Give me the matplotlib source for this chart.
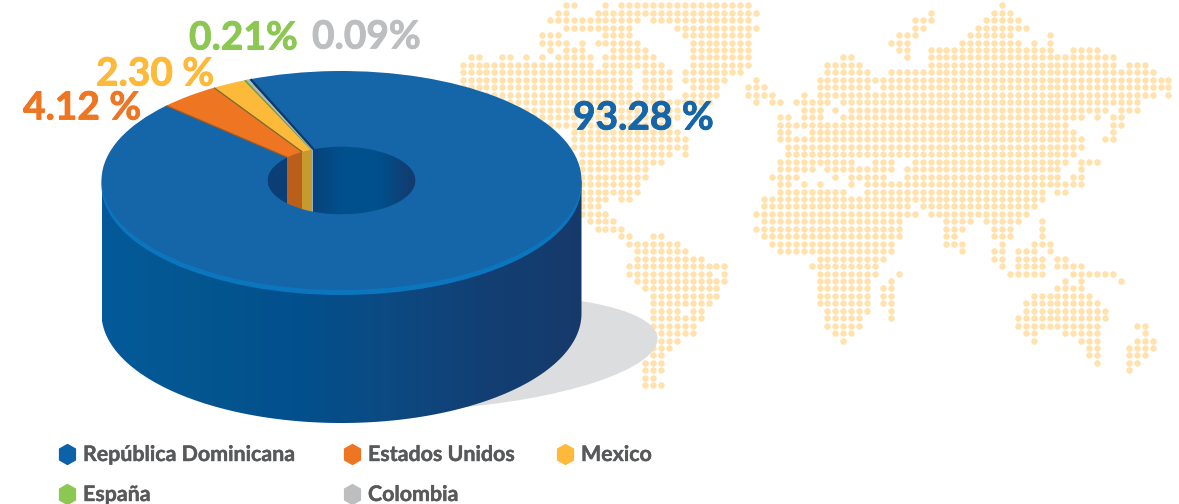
#!/usr/bin/env python
"""
Donut chart of clients by country, drawn over a dotted world map.
"""

import matplotlib
matplotlib.use("Agg")
import matplotlib.patheffects as pe
import matplotlib.pyplot as plt
import numpy as np
from matplotlib.colors import LinearSegmentedColormap
from matplotlib.patches import Ellipse, Polygon, Rectangle
from matplotlib.transforms import Affine2D

plt.rcParams["font.family"] = ["Lato", "DejaVu Sans"]

countries = ["República Dominicana", "Estados Unidos", "Mexico", "España", "Colombia"]
shares = [93.28, 4.12, 2.30, 0.21, 0.09]
share_labels = ["93.28 %", "4.12 %", "2.30 %", "0.21%", "0.09%"]
colors = ["#1565A9", "#EE7623", "#FDB93A", "#8CC751", "#BCBEC0"]
legend_colors = ["#0B62A8", "#EE7623", "#FDB93A", "#8CC751", "#BCBEC0"]
wall_colors = ["#BA5E1B", "#C79A2E"]

# dotted map, one list of (first column, last column) runs per row
map_rows = [
    [(13, 14), (18, 18), (20, 36), (68, 68)],
    [(12, 13), (17, 37), (59, 59), (67, 69)],
    [(11, 22), (24, 36), (57, 59), (66, 70)],
    [(13, 21), (27, 37), (57, 58), (65, 71)],
    [(10, 12), (18, 21), (28, 36), (55, 57), (64, 69), (74, 74)],
    [(10, 13), (15, 15), (17, 22), (29, 36), (54, 56), (63, 70), (72, 72), (74, 74)],
    [(11, 11), (13, 15), (19, 23), (29, 36), (55, 56), (59, 74), (77, 80)],
    [(1, 2), (5, 6), (8, 8), (10, 10), (12, 16), (18, 24), (29, 36), (48, 49), (56, 56), (59, 82)],
    [(0, 16), (18, 25), (29, 36), (46, 50), (59, 82), (84, 86)],
    [(0, 21), (23, 26), (28, 35), (46, 51), (54, 87)],
    [(0, 21), (23, 26), (28, 33), (37, 37), (45, 89)],
    [(0, 21), (23, 26), (29, 32), (36, 38), (45, 51), (53, 89)],
    [(0, 25), (28, 32), (36, 39), (43, 43), (45, 87), (89, 89)],
    [(0, 31), (37, 37), (39, 40), (42, 46), (48, 85)],
    [(0, 30), (43, 45), (47, 47), (49, 81), (83, 85)],
    [(0, 27), (40, 41), (43, 45), (48, 78), (80, 80), (82, 83)],
    [(0, 26), (40, 76), (82, 83)],
    [(14, 27), (40, 41), (44, 77), (82, 82)],
    [(14, 28), (40, 78), (81, 82)],
    [(14, 28), (41, 78)],
    [(15, 26), (28, 28), (41, 77)],
    [(15, 25), (40, 49), (52, 54), (57, 76), (78, 80)],
    [(15, 23), (40, 44), (46, 54), (56, 75), (78, 78)],
    [(15, 23), (39, 42), (47, 47), (49, 53), (56, 75), (77, 78)],
    [(15, 22), (40, 41), (43, 43), (45, 45), (49, 49), (51, 78)],
    [(15, 22), (40, 48), (51, 73), (75, 76)],
    [(15, 18), (20, 21), (38, 73)],
    [(15, 17), (38, 56), (58, 72)],
    [(15, 18), (37, 57), (59, 71)],
    [(16, 19), (38, 55), (61, 64), (66, 70), (73, 73)],
    [(17, 20), (37, 55), (61, 63), (67, 69), (73, 73)],
    [(20, 21), (24, 25), (38, 55), (61, 62), (67, 69), (73, 73)],
    [(21, 27), (39, 54), (61, 63), (68, 68), (72, 74)],
    [(22, 28), (40, 54), (63, 63), (67, 68), (70, 72), (74, 74)],
    [(22, 30), (45, 53), (67, 68), (70, 73), (75, 76)],
    [(21, 33), (44, 52), (68, 68), (70, 73), (75, 78)],
    [(21, 31), (33, 33), (45, 52), (55, 55), (69, 73), (77, 82)],
    [(22, 33), (45, 51), (54, 54), (76, 76), (78, 78), (83, 83)],
    [(23, 32), (45, 51), (53, 54), (75, 78)],
    [(24, 32), (45, 51), (53, 54), (72, 79)],
    [(24, 31), (45, 51), (53, 54), (71, 80)],
    [(24, 27), (29, 30), (46, 51), (54, 54), (71, 81)],
    [(24, 30), (46, 50), (54, 54), (70, 81)],
    [(24, 29), (46, 50), (70, 80), (85, 86)],
    [(24, 29), (47, 49), (71, 72), (76, 80), (86, 86)],
    [(24, 27), (48, 48), (72, 72), (78, 80), (85, 87)],
    [(24, 26), (79, 80), (84, 87)],
    [(24, 25), (79, 80), (84, 86)],
    [(23, 25), (80, 80), (84, 85)],
    [(23, 25), (84, 84)],
    [(23, 24)],
    [(23, 25)],
]

# pie geometry in pixels
CX, CY = 341.5, 180.5
RX, RY = 240, 109.5
HOLE = 74 / 240
DEPTH = 133
START = 112.7


def gradient(ax, cmap, x0, x1, y0, y1, clip, zorder):
    """Horizontal colour ramp clipped to a patch"""
    im = ax.imshow(np.linspace(0, 1, 256).reshape(1, -1), cmap=cmap, aspect="auto",
                   extent=(x0, x1, y1, y0), zorder=zorder)
    im.set_clip_path(clip)


def main():
    fig = plt.figure(figsize=(11.79, 5.04), dpi=100)
    ax = fig.add_axes([0, 0, 1, 1])

    # world map
    xs, ys = [], []
    for k, runs in enumerate(map_rows):
        for first, last in runs:
            for c in range(first, last + 1):
                xs.append(462.7 + 7.93 * c)
                ys.append(5.3 + 7.45 * k)
    ax.scatter(xs, ys, s=22, color="#FFE2AE", linewidths=0, zorder=1)

    # shadow
    ax.add_patch(Ellipse((440, 353), 436, 112, angle=-4, color="#DCDDDF", lw=0, zorder=2))

    # outer side of the drum
    t = np.linspace(0, np.pi, 200)
    side_pts = np.column_stack([CX + RX * np.cos(t), CY + DEPTH + RY * np.sin(t)])
    side_pts = np.vstack([[CX + RX, CY], side_pts, [CX - RX, CY]])
    side = Polygon(side_pts, closed=True, fc="none", ec="none", zorder=3)
    ax.add_patch(side)
    side_cmap = LinearSegmentedColormap.from_list(
        "side", ["#045A9A", "#03568F", "#02508E", "#0C4A82", "#123F74", "#163A6A"])
    gradient(ax, side_cmap, CX - RX, CX + RX, CY - 5, CY + DEPTH + RY + 5, side, 3)

    # lighter rim under the top face
    ax.add_patch(Ellipse((CX, CY + 5), 2 * RX, 2 * RY, color="#0B76BE", lw=0, zorder=4))

    # inner wall seen through the hole
    hole = Ellipse((CX, CY), 2 * RX * HOLE, 2 * RY * HOLE * 1.03, fc="#0B3F75", ec="none", zorder=5)
    ax.add_patch(hole)
    wall_cmap = LinearSegmentedColormap.from_list(
        "wall", ["#0B3F75", "#0B3F75", "#00508D", "#00508D", "#15396B"])
    gradient(ax, wall_cmap, CX - RX * HOLE, CX + RX * HOLE, CY - 45, CY + 45, hole, 5)

    # slice edges as angles
    bounds = START - np.cumsum([0] + shares) * 3.6
    hole_x = CX + RX * HOLE * np.cos(np.radians(bounds))
    hole_end = CX + RX * HOLE * np.cos(np.radians(bounds[1] + 360))
    for i in range(2):
        r = Rectangle((hole_end if i == 0 else hole_x[2], CY - 45),
                      (hole_x[2] - hole_end) if i == 0 else (hole_x[3] - hole_x[2]), 90,
                      color=wall_colors[i], lw=0, zorder=6)
        ax.add_patch(r)
        r.set_clip_path(hole)
    seam = Rectangle((hole_x[3], CY - 45), 1.5, 90, color="#8FB0CC", lw=0, zorder=6)
    ax.add_patch(seam)
    seam.set_clip_path(hole)

    # top face
    pie_tf = Affine2D().scale(RX, -RY).translate(CX, CY) + ax.transData
    wedges, _ = ax.pie(shares, colors=colors, startangle=START, counterclock=False,
                       wedgeprops={"width": 1 - HOLE, "linewidth": 0})
    for w in wedges:
        w.set_transform(pie_tf)
        w.set_zorder(7)

    # darker edges on the small slices, thin ones widened so they stay visible
    edge_angles = [bounds[1], bounds[2], bounds[3], bounds[4] + 0.1, START - 0.45]
    edge_cols = ["#A85A1E", "#7A6A30", "#6E9A42", "#B4B6B8", "#0E3A6B"]
    edge_widths = [0.9, 0.9, 1.0, 1.3, 1.6]
    for ang, col, lw in zip(edge_angles, edge_cols, edge_widths):
        a = np.radians(ang)
        ax.plot([HOLE * np.cos(a), np.cos(a)], [HOLE * np.sin(a), np.sin(a)],
                color=col, lw=lw, transform=pie_tf, zorder=8, solid_capstyle="butt")

    # percentages
    label_xy = [(573, 118), (23, 108), (96, 74), (189, 38), (312, 37)]
    label_colors = ["#1565A9", "#EE7623", "#FDB93A", "#8CC751", "#BCBEC0"]
    for txt, (x, y), col in zip(share_labels, label_xy, label_colors):
        ax.text(x, y, txt, color=col, fontsize=28, fontweight="bold", ha="left", va="center", zorder=9,
                path_effects=[pe.withStroke(linewidth=0.6, foreground=col)])

    # legend
    hexagon = [(0, 1), (0.8, 0.55), (0.8, -0.55), (0, -1), (-0.8, -0.55), (-0.8, 0.55)]
    legend_xy = [(67, 454), (352, 454), (565, 454), (67, 494), (352, 494)]
    for name, (x, y), col in zip(countries, legend_xy, legend_colors):
        ax.scatter([x], [y], s=240, marker=hexagon, color=col, linewidths=0, zorder=9)
        ax.text(x + 16, y + 1, name, color="#58595B", fontsize=15.4, fontweight="bold",
                ha="left", va="center", zorder=9,
                path_effects=[pe.withStroke(linewidth=0.3, foreground="#58595B")])

    ax.set_aspect("auto")
    ax.set_xlim(0, 1179)
    ax.set_ylim(504, 0)
    ax.set_axis_off()
    fig.savefig("out.png", dpi=100, facecolor="white")


if __name__ == "__main__":
    main()
